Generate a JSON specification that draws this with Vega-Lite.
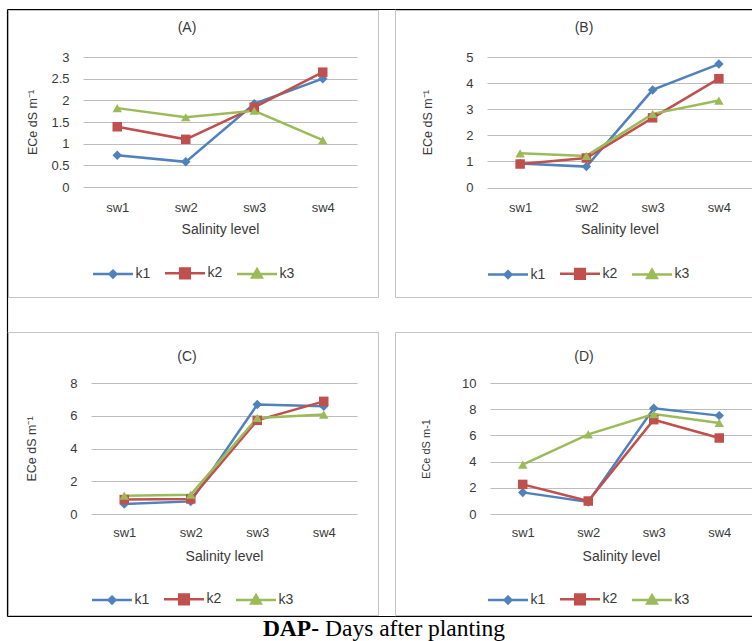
{
  "$schema": "https://vega.github.io/schema/vega-lite/v6.json",
  "padding": {"left": 6, "top": 8, "right": 0, "bottom": 0},
  "datasets": {
    "A": [
      {"sw": "sw1", "k": "k1", "v": 0.73}, {"sw": "sw2", "k": "k1", "v": 0.58}, {"sw": "sw3", "k": "k1", "v": 1.92}, {"sw": "sw4", "k": "k1", "v": 2.5},
      {"sw": "sw1", "k": "k2", "v": 1.39}, {"sw": "sw2", "k": "k2", "v": 1.1}, {"sw": "sw3", "k": "k2", "v": 1.84}, {"sw": "sw4", "k": "k2", "v": 2.65},
      {"sw": "sw1", "k": "k3", "v": 1.82}, {"sw": "sw2", "k": "k3", "v": 1.61}, {"sw": "sw3", "k": "k3", "v": 1.76}, {"sw": "sw4", "k": "k3", "v": 1.08}
    ],
    "B": [
      {"sw": "sw1", "k": "k1", "v": 0.92}, {"sw": "sw2", "k": "k1", "v": 0.8}, {"sw": "sw3", "k": "k1", "v": 3.74}, {"sw": "sw4", "k": "k1", "v": 4.73},
      {"sw": "sw1", "k": "k2", "v": 0.9}, {"sw": "sw2", "k": "k2", "v": 1.13}, {"sw": "sw3", "k": "k2", "v": 2.67}, {"sw": "sw4", "k": "k2", "v": 4.17},
      {"sw": "sw1", "k": "k3", "v": 1.31}, {"sw": "sw2", "k": "k3", "v": 1.21}, {"sw": "sw3", "k": "k3", "v": 2.82}, {"sw": "sw4", "k": "k3", "v": 3.33}
    ],
    "C": [
      {"sw": "sw1", "k": "k1", "v": 0.61}, {"sw": "sw2", "k": "k1", "v": 0.77}, {"sw": "sw3", "k": "k1", "v": 6.68}, {"sw": "sw4", "k": "k1", "v": 6.58},
      {"sw": "sw1", "k": "k2", "v": 0.88}, {"sw": "sw2", "k": "k2", "v": 0.92}, {"sw": "sw3", "k": "k2", "v": 5.72}, {"sw": "sw4", "k": "k2", "v": 6.88},
      {"sw": "sw1", "k": "k3", "v": 1.12}, {"sw": "sw2", "k": "k3", "v": 1.18}, {"sw": "sw3", "k": "k3", "v": 5.87}, {"sw": "sw4", "k": "k3", "v": 6.07}
    ],
    "D": [
      {"sw": "sw1", "k": "k1", "v": 1.65}, {"sw": "sw2", "k": "k1", "v": 0.92}, {"sw": "sw3", "k": "k1", "v": 8.07}, {"sw": "sw4", "k": "k1", "v": 7.51},
      {"sw": "sw1", "k": "k2", "v": 2.26}, {"sw": "sw2", "k": "k2", "v": 0.99}, {"sw": "sw3", "k": "k2", "v": 7.2}, {"sw": "sw4", "k": "k2", "v": 5.8},
      {"sw": "sw1", "k": "k3", "v": 3.77}, {"sw": "sw2", "k": "k3", "v": 6.08}, {"sw": "sw3", "k": "k3", "v": 7.63}, {"sw": "sw4", "k": "k3", "v": 6.95}
    ]
  },
  "config": {
    "font": "Liberation Sans",
    "view": {"stroke": "#c4c4c4"},
    "style": {"cell": {"strokeForeground": false}},
    "axis": {"domain": false, "ticks": false, "tickSize": 0, "labelFont": "Liberation Sans", "titleFont": "Liberation Sans", "labelFontSize": 13, "labelColor": "#3a3a3a", "titleFontSize": 14, "titleFontWeight": "normal", "titleColor": "#3a3a3a", "gridColor": "#bdbdbd", "gridWidth": 1},
    "legend": {"labelFont": "Liberation Sans", "labelFontSize": 14, "labelColor": "#3a3a3a"},
    "title": {"font": "Liberation Sans", "fontSize": 14, "fontWeight": "normal", "color": "#3a3a3a"}
  },
  "bounds": "flush",
  "columns": 2,
  "spacing": {"row": 35, "column": 17},
  "resolve": {"scale": {"color": "independent", "shape": "independent"}},
  "concat": [
    {
      "width": 370, "height": 287,
      "data": {"name": "A"},
      "title": {"text": "(A)", "frame": "group", "offset": -33, "baseline": "middle", "dx": -6},
      "resolve": {"scale": {"x": "independent", "y": "independent"}},
      "layer": [
        {
          "encoding": {
            "x": {"field": "sw", "type": "ordinal", "scale": {"range": [75, 349]}, "axis": {"orient": "bottom", "offset": -110, "labelAngle": 0, "labelPadding": 20, "labelBaseline": "middle", "title": "Salinity level", "titleY": 42, "titleBaseline": "middle"}},
            "y": {"field": "v", "type": "quantitative", "scale": {"domain": [0, 3], "range": [177, 47], "nice": false}, "axis": {"orient": "left", "offset": -75, "values": [0, 0.5, 1, 1.5, 2, 2.5, 3], "format": "~r", "labelPadding": 14, "grid": true, "title": "ECe dS m⁻¹", "titleX": -51, "titleBaseline": "middle", "titleFontSize": 12.5}},
            "color": {"field": "k", "type": "nominal", "scale": {"domain": ["k1", "k2", "k3"], "range": ["#4F81BD", "#C0504D", "#9BBB59"]},
              "legend": {"orient": "none", "legendX": 83.5, "legendY": 241.5, "direction": "horizontal", "title": null, "symbolSize": 1600, "symbolStrokeWidth": 2.5, "symbolOpacity": 1, "labelOffset": 1, "columnPadding": 9,
                "encode": {"symbols": {"update": {
                  "shape": {"signal": "datum.value === 'k1' ? 'M-1,0H1M0,-0.17L0.17,0L0,0.17L-0.17,0Z' : datum.value === 'k2' ? 'M-1,0H1M-0.24,-0.24H0.24V0.24H-0.24Z' : 'M-1,0H1M0,-0.24L0.24,0.18H-0.24Z'"},
                  "fill": {"signal": "datum.value === 'k1' ? '#4F81BD' : datum.value === 'k2' ? '#C0504D' : '#9BBB59'"},
                  "stroke": {"signal": "datum.value === 'k1' ? '#4F81BD' : datum.value === 'k2' ? '#C0504D' : '#9BBB59'"},
                  "opacity": {"value": 1}
                }}}}}
          },
          "layer": [
            {"mark": {"type": "line", "strokeWidth": 2.5}},
            {"mark": {"type": "point", "filled": true, "size": 90, "opacity": 1}, "encoding": {"shape": {"field": "k", "type": "nominal", "scale": {"range": ["diamond", "square", "triangle-up"]}, "legend": null}}}
          ]
        },
        {
          "mark": {"type": "point", "opacity": 0},
          "encoding": {
            "x": {"field": "sw", "type": "ordinal", "scale": {"domain": ["sw1", "sw2", "sw3", "sw4"], "range": [-1, 387]}, "axis": {"orient": "top", "offset": 1, "domain": true, "domainColor": "#000000", "domainWidth": 1.2, "labels": false, "ticks": false, "grid": false, "title": null, "zindex": 2}},
            "y": {"field": "v", "type": "quantitative", "scale": {"domain": [0, 3], "range": [-1, 322], "nice": false, "zero": false}, "axis": {"orient": "left", "offset": 1, "domain": true, "domainColor": "#000000", "domainWidth": 1.2, "labels": false, "ticks": false, "grid": false, "title": null, "zindex": 2}}
          }
        }
      ]
    },
    {
      "width": 358, "height": 287,
      "data": {"name": "B"},
      "title": {"text": "(B)", "frame": "group", "offset": -33, "baseline": "middle", "dx": 10},
      "resolve": {"scale": {"x": "independent"}},
      "layer": [
        {
          "encoding": {
            "x": {"field": "sw", "type": "ordinal", "scale": {"range": [92, 357]}, "axis": {"orient": "bottom", "offset": -109.5, "labelAngle": 0, "labelPadding": 20, "labelBaseline": "middle", "title": "Salinity level", "titleY": 42, "titleBaseline": "middle"}},
            "y": {"field": "v", "type": "quantitative", "scale": {"domain": [0, 5], "range": [177.5, 47], "nice": false}, "axis": {"orient": "left", "offset": -92, "values": [0, 1, 2, 3, 4, 5], "format": "~r", "labelPadding": 14, "grid": true, "title": "ECe dS m⁻¹", "titleX": -60, "titleBaseline": "middle", "titleFontSize": 12.5}},
            "color": {"field": "k", "type": "nominal", "scale": {"domain": ["k1", "k2", "k3"], "range": ["#4F81BD", "#C0504D", "#9BBB59"]},
              "legend": {"orient": "none", "legendX": 91.5, "legendY": 242, "direction": "horizontal", "title": null, "symbolSize": 1600, "symbolStrokeWidth": 2.5, "symbolOpacity": 1, "labelOffset": 1, "columnPadding": 9,
                "encode": {"symbols": {"update": {
                  "shape": {"signal": "datum.value === 'k1' ? 'M-1,0H1M0,-0.17L0.17,0L0,0.17L-0.17,0Z' : datum.value === 'k2' ? 'M-1,0H1M-0.24,-0.24H0.24V0.24H-0.24Z' : 'M-1,0H1M0,-0.24L0.24,0.18H-0.24Z'"},
                  "fill": {"signal": "datum.value === 'k1' ? '#4F81BD' : datum.value === 'k2' ? '#C0504D' : '#9BBB59'"},
                  "stroke": {"signal": "datum.value === 'k1' ? '#4F81BD' : datum.value === 'k2' ? '#C0504D' : '#9BBB59'"},
                  "opacity": {"value": 1}
                }}}}}
          },
          "layer": [
            {"mark": {"type": "line", "strokeWidth": 2.5}},
            {"mark": {"type": "point", "filled": true, "size": 90, "opacity": 1}, "encoding": {"shape": {"field": "k", "type": "nominal", "scale": {"range": ["diamond", "square", "triangle-up"]}, "legend": null}}}
          ]
        },
        {
          "mark": {"type": "point", "opacity": 0},
          "encoding": {
            "x": {"field": "sw", "type": "ordinal", "scale": {"domain": ["sw1", "sw2", "sw3", "sw4"], "range": [0, 358]}, "axis": {"orient": "top", "offset": 1, "domain": true, "domainColor": "#000000", "domainWidth": 1.2, "labels": false, "ticks": false, "grid": false, "title": null, "zindex": 2}},
            "y": {"field": "v", "type": "quantitative"}
          }
        }
      ]
    },
    {
      "width": 370, "height": 283,
      "data": {"name": "C"},
      "title": {"text": "(C)", "frame": "group", "offset": -39, "baseline": "middle", "dx": -6},
      "resolve": {"scale": {"x": "independent", "y": "independent"}},
      "layer": [
        {
          "encoding": {
            "x": {"field": "sw", "type": "ordinal", "scale": {"range": [83, 349]}, "axis": {"orient": "bottom", "offset": -101, "labelAngle": 0, "labelPadding": 18.5, "labelBaseline": "middle", "title": "Salinity level", "titleY": 42.5, "titleBaseline": "middle"}},
            "y": {"field": "v", "type": "quantitative", "scale": {"domain": [0, 8], "range": [182, 51], "nice": false}, "axis": {"orient": "left", "offset": -83, "values": [0, 2, 4, 6, 8], "format": "~r", "labelPadding": 14, "grid": true, "title": "ECe dS m⁻¹", "titleX": -60, "titleBaseline": "middle", "titleFontSize": 12.5}},
            "color": {"field": "k", "type": "nominal", "scale": {"domain": ["k1", "k2", "k3"], "range": ["#4F81BD", "#C0504D", "#9BBB59"]},
              "legend": {"orient": "none", "legendX": 82.5, "legendY": 245.5, "direction": "horizontal", "title": null, "symbolSize": 1600, "symbolStrokeWidth": 2.5, "symbolOpacity": 1, "labelOffset": 1, "columnPadding": 9,
                "encode": {"symbols": {"update": {
                  "shape": {"signal": "datum.value === 'k1' ? 'M-1,0H1M0,-0.17L0.17,0L0,0.17L-0.17,0Z' : datum.value === 'k2' ? 'M-1,0H1M-0.24,-0.24H0.24V0.24H-0.24Z' : 'M-1,0H1M0,-0.24L0.24,0.18H-0.24Z'"},
                  "fill": {"signal": "datum.value === 'k1' ? '#4F81BD' : datum.value === 'k2' ? '#C0504D' : '#9BBB59'"},
                  "stroke": {"signal": "datum.value === 'k1' ? '#4F81BD' : datum.value === 'k2' ? '#C0504D' : '#9BBB59'"},
                  "opacity": {"value": 1}
                }}}}}
          },
          "layer": [
            {"mark": {"type": "line", "strokeWidth": 2.5}},
            {"mark": {"type": "point", "filled": true, "size": 90, "opacity": 1}, "encoding": {"shape": {"field": "k", "type": "nominal", "scale": {"range": ["diamond", "square", "triangle-up"]}, "legend": null}}}
          ]
        },
        {
          "mark": {"type": "point", "opacity": 0},
          "encoding": {
            "x": {"field": "sw", "type": "ordinal", "scale": {"domain": ["sw1", "sw2", "sw3", "sw4"], "range": [-1, 387]}, "axis": {"orient": "bottom", "offset": 1, "domain": true, "domainColor": "#000000", "domainWidth": 1.2, "labels": false, "ticks": false, "grid": false, "title": null, "zindex": 2}},
            "y": {"field": "v", "type": "quantitative", "scale": {"domain": [0, 8], "range": [0, 284], "nice": false, "zero": false}, "axis": {"orient": "left", "offset": 1, "domain": true, "domainColor": "#000000", "domainWidth": 1.2, "labels": false, "ticks": false, "grid": false, "title": null, "zindex": 2}}
          }
        }
      ]
    },
    {
      "width": 358, "height": 283,
      "data": {"name": "D"},
      "title": {"text": "(D)", "frame": "group", "offset": -39, "baseline": "middle", "dx": 10},
      "resolve": {"scale": {"x": "independent"}},
      "layer": [
        {
          "encoding": {
            "x": {"field": "sw", "type": "ordinal", "scale": {"range": [95, 357]}, "axis": {"orient": "bottom", "offset": -101, "labelAngle": 0, "labelPadding": 18.5, "labelBaseline": "middle", "title": "Salinity level", "titleY": 42.5, "titleBaseline": "middle"}},
            "y": {"field": "v", "type": "quantitative", "scale": {"domain": [0, 10], "range": [182, 51], "nice": false}, "axis": {"orient": "left", "offset": -95, "values": [0, 2, 4, 6, 8, 10], "format": "~r", "labelPadding": 14, "grid": true, "title": "ECe dS m-1", "titleX": -64, "titleBaseline": "middle", "titleFontSize": 11}},
            "color": {"field": "k", "type": "nominal", "scale": {"domain": ["k1", "k2", "k3"], "range": ["#4F81BD", "#C0504D", "#9BBB59"]},
              "legend": {"orient": "none", "legendX": 91.5, "legendY": 245.5, "direction": "horizontal", "title": null, "symbolSize": 1600, "symbolStrokeWidth": 2.5, "symbolOpacity": 1, "labelOffset": 1, "columnPadding": 9,
                "encode": {"symbols": {"update": {
                  "shape": {"signal": "datum.value === 'k1' ? 'M-1,0H1M0,-0.17L0.17,0L0,0.17L-0.17,0Z' : datum.value === 'k2' ? 'M-1,0H1M-0.24,-0.24H0.24V0.24H-0.24Z' : 'M-1,0H1M0,-0.24L0.24,0.18H-0.24Z'"},
                  "fill": {"signal": "datum.value === 'k1' ? '#4F81BD' : datum.value === 'k2' ? '#C0504D' : '#9BBB59'"},
                  "stroke": {"signal": "datum.value === 'k1' ? '#4F81BD' : datum.value === 'k2' ? '#C0504D' : '#9BBB59'"},
                  "opacity": {"value": 1}
                }}}}}
          },
          "layer": [
            {"mark": {"type": "line", "strokeWidth": 2.5}},
            {"mark": {"type": "point", "filled": true, "size": 90, "opacity": 1}, "encoding": {"shape": {"field": "k", "type": "nominal", "scale": {"range": ["diamond", "square", "triangle-up"]}, "legend": null}}}
          ]
        },
        {
          "mark": {"type": "point", "opacity": 0},
          "encoding": {
            "x": {"field": "sw", "type": "ordinal", "scale": {"domain": ["sw1", "sw2", "sw3", "sw4"], "range": [0, 358]}, "axis": {"orient": "bottom", "offset": 1, "domain": true, "domainColor": "#000000", "domainWidth": 1.2, "labels": false, "ticks": false, "grid": false, "title": null, "zindex": 2}},
            "y": {"field": "v", "type": "quantitative"}
          }
        }
      ]
    },
    {
      "width": 370, "height": 2,
      "view": {"stroke": null},
      "layer": [
        {"data": {"values": [{"t": "DAP-"}]}, "mark": {"type": "text", "align": "right", "baseline": "alphabetic", "dx": 126, "dy": -15, "font": "Liberation Serif", "fontSize": 23.5, "fontWeight": "bold", "color": "#000000"}, "encoding": {"text": {"field": "t", "type": "nominal"}}},
        {"data": {"values": [{"t": "Days after planting"}]}, "mark": {"type": "text", "align": "left", "baseline": "alphabetic", "dx": 132, "dy": -15, "font": "Liberation Serif", "fontSize": 23.5, "color": "#000000"}, "encoding": {"text": {"field": "t", "type": "nominal"}}}
      ]
    }
  ]
}
